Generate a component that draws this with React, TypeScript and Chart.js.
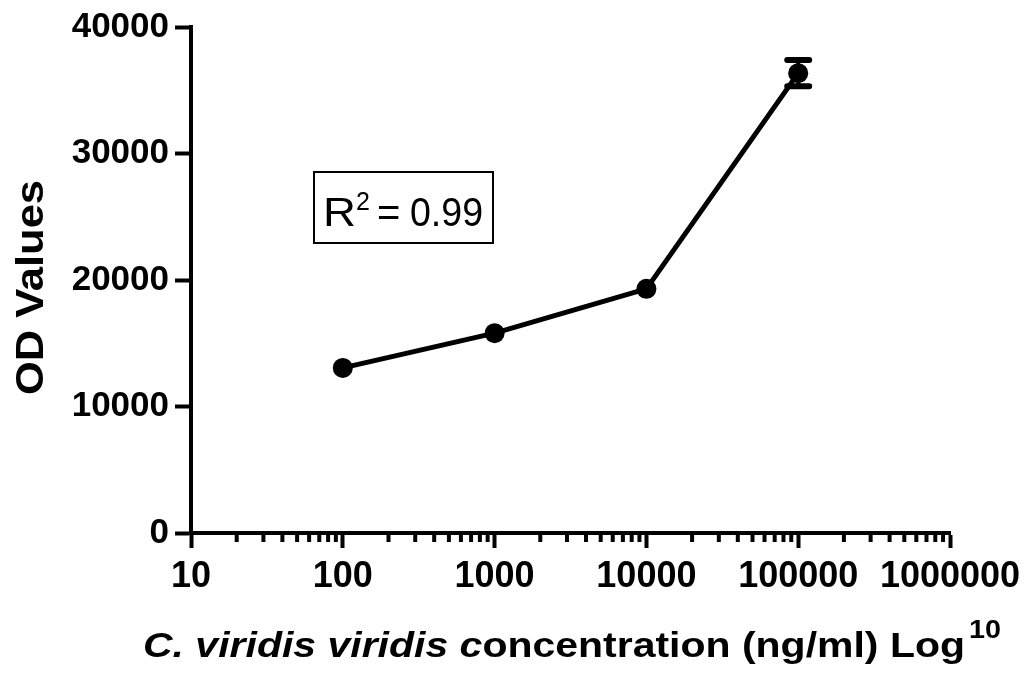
import React, { useEffect, useRef } from "react";
import { Chart, registerables } from "chart.js";

Chart.register(...registerables);

const concentrations = [100, 1000, 10000, 100000];
const odValues = [13050, 15800, 19300, 36350];
const odErrors = [0, 0, 0, 1040];
const xTickValues = [10, 100, 1000, 10000, 100000, 1000000];
const yTickValues = [0, 10000, 20000, 30000, 40000];
const xTitleItalic = "C. viridis viridis c";
const xTitleNormal = "oncentration (ng/ml) Log";
const xTitleSup = "10";
const yTitle = "OD Values";
const rLabel = "R";
const rSup = "2";
const rEq = "=";
const rValue = "0.99";

const FONT = "'Liberation Sans', Arial, sans-serif";

function drawFit(
  ctx: CanvasRenderingContext2D,
  text: string,
  font: string,
  x: number,
  y: number,
  targetWidth: number
) {
  ctx.save();
  ctx.font = font;
  const w = ctx.measureText(text).width;
  const s = targetWidth / w;
  ctx.translate(x, y);
  ctx.scale(s, 1);
  ctx.fillText(text, 0, 0);
  ctx.restore();
}

const decorPlugin = {
  id: "decor",
  afterDraw(chart: any) {
    const ctx: CanvasRenderingContext2D = chart.ctx;
    const xs = chart.scales.x;
    const ys = chart.scales.y;
    const area = chart.chartArea;
    ctx.save();
    ctx.fillStyle = "#000";
    ctx.strokeStyle = "#000";

    // minor ticks on the log axis
    ctx.lineWidth = 4;
    ctx.lineCap = "butt";
    for (let d = 10; d < 1000000; d *= 10) {
      for (let k = 2; k <= 9; k++) {
        const px = xs.getPixelForValue(k * d);
        ctx.beginPath();
        ctx.moveTo(px, area.bottom);
        ctx.lineTo(px, area.bottom + 9);
        ctx.stroke();
      }
    }

    // error bars
    ctx.lineCap = "round";
    concentrations.forEach((c, i) => {
      if (!odErrors[i]) return;
      const px = xs.getPixelForValue(c);
      const top = ys.getPixelForValue(odValues[i] + odErrors[i]);
      const bot = ys.getPixelForValue(odValues[i] - odErrors[i]);
      ctx.lineWidth = 4;
      ctx.beginPath();
      ctx.moveTo(px, top);
      ctx.lineTo(px, bot);
      ctx.stroke();
      ctx.lineWidth = 6;
      ctx.beginPath();
      ctx.moveTo(px - 11, top);
      ctx.lineTo(px + 11, top);
      ctx.moveTo(px - 11, bot);
      ctx.lineTo(px + 11, bot);
      ctx.stroke();
    });

    // R^2 box
    ctx.lineCap = "butt";
    ctx.lineWidth = 2;
    ctx.strokeRect(314, 172, 179, 71);
    ctx.textBaseline = "alphabetic";
    ctx.textAlign = "left";
    drawFit(ctx, rLabel, `normal 40px ${FONT}`, 323, 226, 33);
    ctx.font = `normal 25px ${FONT}`;
    ctx.fillText(rSup, 356, 210);
    ctx.font = `normal 40px ${FONT}`;
    ctx.fillText(rEq, 377, 226);
    drawFit(ctx, rValue, `normal 40px ${FONT}`, 410, 226, 73);

    // x title
    const fontI = `italic bold 35px ${FONT}`;
    const fontN = `bold 35px ${FONT}`;
    ctx.font = fontI;
    const wI = ctx.measureText(xTitleItalic).width;
    ctx.font = fontN;
    const wN = ctx.measureText(xTitleNormal).width;
    const sx = 822 / (wI + wN);
    ctx.save();
    ctx.translate(143, 657);
    ctx.scale(sx, 1);
    ctx.font = fontI;
    ctx.fillText(xTitleItalic, 0, 0);
    ctx.font = fontN;
    ctx.fillText(xTitleNormal, wI, 0);
    ctx.restore();
    drawFit(ctx, xTitleSup, `bold 25px ${FONT}`, 969, 638, 32);

    // y title
    ctx.save();
    ctx.translate(43, 287.5);
    ctx.rotate(-Math.PI / 2);
    ctx.font = `bold 38px ${FONT}`;
    const wy = ctx.measureText(yTitle).width;
    ctx.scale(215 / wy, 1);
    ctx.textAlign = "center";
    ctx.fillText(yTitle, 0, 0);
    ctx.restore();

    ctx.restore();
  },
};

export default function App() {
  const ref = useRef<HTMLCanvasElement | null>(null);
  useEffect(() => {
    if (!ref.current) return;
    const chart = new Chart(ref.current, {
      type: "line",
      data: {
        datasets: [
          {
            data: concentrations.map((c, i) => ({ x: c, y: odValues[i] })),
            borderColor: "#000",
            backgroundColor: "#000",
            borderWidth: 5,
            pointRadius: 10,
            pointBackgroundColor: "#000",
            pointBorderColor: "#000",
            pointBorderWidth: 0,
            tension: 0,
          },
        ],
      },
      options: {
        responsive: false,
        animation: false,
        events: [],
        layout: { padding: { top: 26, right: 79, left: 0, bottom: 0 } },
        plugins: {
          legend: { display: false },
          tooltip: { enabled: false },
          title: { display: false },
        },
        scales: {
          x: {
            type: "logarithmic",
            min: 10,
            max: 1000000,
            afterBuildTicks: (scale: any) => {
              scale.ticks = xTickValues.map((v) => ({ value: v, major: true }));
            },
            afterFit: (scale: any) => {
              scale.height = 140;
            },
            ticks: {
              autoSkip: false,
              maxRotation: 0,
              color: "#000",
              padding: 7,
              font: { family: FONT, size: 36, weight: "bold" },
              callback: (v: any) => String(v),
            },
            grid: {
              display: true,
              drawOnChartArea: false,
              drawTicks: true,
              tickLength: 15,
              tickWidth: 4,
              tickColor: "#000",
              color: "#000",
            },
            border: { display: true, color: "#000", width: 4 },
          },
          y: {
            type: "linear",
            min: 0,
            max: 40000,
            afterBuildTicks: (scale: any) => {
              scale.ticks = yTickValues.map((v) => ({ value: v }));
            },
            afterFit: (scale: any) => {
              scale.width = 191;
            },
            ticks: {
              color: "#000",
              padding: 6,
              font: { family: FONT, size: 35, weight: "bold" },
              callback: (v: any) => String(v),
            },
            grid: {
              display: true,
              drawOnChartArea: false,
              drawTicks: true,
              tickLength: 16,
              tickWidth: 4,
              tickColor: "#000",
              color: "#000",
            },
            border: { display: true, color: "#000", width: 4 },
          },
        },
      } as any,
      plugins: [decorPlugin],
    });
    return () => chart.destroy();
  }, []);
  return (
    <div style={{ position: "absolute", left: 0, top: 0, width: 1029, height: 673, background: "#fff" }}>
      <canvas ref={ref} width={1029} height={673} />
    </div>
  );
}
